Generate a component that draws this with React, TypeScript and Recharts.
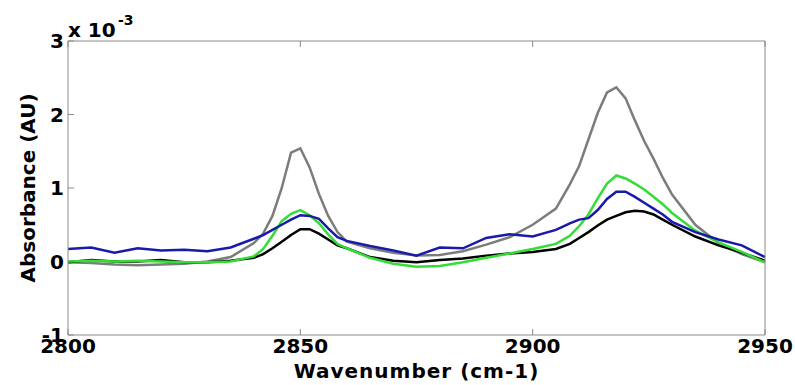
import React from "react";
import { LineChart, Line, XAxis, YAxis } from "recharts";

const WAVENUMBER = [
  2800, 2805, 2810, 2815, 2820, 2825, 2830, 2835, 2840,
  2842, 2844, 2846, 2848, 2850, 2852, 2854, 2856, 2858,
  2860, 2865, 2870, 2875, 2880, 2885, 2890, 2895, 2900, 2905,
  2908, 2910, 2912, 2914, 2916, 2918, 2920, 2922, 2924, 2926, 2928, 2930,
  2935, 2940, 2945, 2950,
];

// absorbance in units of 1e-3 AU
const GRAY = [
  -0.01, -0.02, -0.04, -0.05, -0.04, -0.03, 0.0, 0.06, 0.25,
  0.38, 0.62, 1.0, 1.48, 1.54, 1.28, 0.92, 0.62, 0.4,
  0.27, 0.18, 0.12, 0.08, 0.09, 0.14, 0.23, 0.33, 0.5, 0.72,
  1.05, 1.3, 1.66, 2.02, 2.3, 2.37, 2.22, 1.92, 1.64, 1.4, 1.14, 0.91,
  0.5, 0.25, 0.1, -0.01,
];

const GREEN = [
  0.0, 0.01, 0.0, 0.01, 0.0, -0.01, -0.01, 0.0, 0.07,
  0.17, 0.35, 0.55, 0.65, 0.7, 0.63, 0.52, 0.37, 0.24,
  0.18, 0.05, -0.03, -0.07, -0.06, -0.01, 0.05, 0.11, 0.17, 0.24,
  0.35, 0.48, 0.64, 0.86, 1.06, 1.17, 1.13, 1.06, 0.98, 0.88, 0.78, 0.66,
  0.42, 0.26, 0.13, -0.01,
];

const BLUE = [
  0.17, 0.19, 0.12, 0.18, 0.15, 0.16, 0.14, 0.19, 0.31,
  0.36, 0.43, 0.5, 0.57, 0.63, 0.62, 0.58, 0.45, 0.33,
  0.28, 0.21, 0.15, 0.08, 0.19, 0.18, 0.32, 0.37, 0.34, 0.43,
  0.52, 0.57, 0.59, 0.7, 0.85, 0.95, 0.95, 0.88, 0.8, 0.72, 0.64, 0.54,
  0.4, 0.3, 0.22, 0.06,
];

const BLACK = [
  -0.01, 0.02, 0.0, 0.0, 0.02, -0.01, -0.01, 0.01, 0.05,
  0.1, 0.18, 0.27, 0.36, 0.44, 0.44, 0.38, 0.3, 0.22,
  0.18, 0.06, 0.01, -0.01, 0.02, 0.04, 0.08, 0.11, 0.13, 0.17,
  0.24, 0.32, 0.4, 0.49, 0.57, 0.62, 0.67, 0.69, 0.68, 0.64, 0.57, 0.5,
  0.34, 0.22, 0.12, 0.01,
];

const X_TICKS = [2800, 2850, 2900, 2950];
const Y_TICKS = [-1, 0, 1, 2, 3];

const data = WAVENUMBER.map((w, i) => ({
  w,
  gray: GRAY[i],
  green: GREEN[i],
  blue: BLUE[i],
  black: BLACK[i],
}));

const font = "'DejaVu Sans', Arial, sans-serif";
const tickStyle = { fill: "#000", fontSize: 20, fontWeight: 700, fontFamily: font };
const axisColor = "#8a8a8a";

export default function App() {
  return (
    <div style={{ position: "absolute", left: 0, top: 0, width: 795, height: 385, background: "#fff" }}>
      <LineChart width={795} height={385} data={data} margin={{ top: 40, right: 29, bottom: 0, left: 0 }}>
        <XAxis
          dataKey="w"
          type="number"
          domain={[2800, 2950]}
          ticks={X_TICKS}
          height={50}
          tick={tickStyle}
          tickSize={-6}
          tickMargin={10}
          axisLine={{ stroke: axisColor }}
          tickLine={{ stroke: axisColor }}
          label={{ value: "Wavenumber (cm-1)", position: "insideBottom", offset: 7, fill: "#000", fontSize: 20, fontWeight: 700, fontFamily: font, letterSpacing: 1 }}
        />
        <XAxis
          xAxisId="top"
          orientation="top"
          dataKey="w"
          type="number"
          domain={[2800, 2950]}
          ticks={X_TICKS}
          height={1}
          tickFormatter={() => ""}
          tickSize={-6}
          axisLine={{ stroke: axisColor }}
          tickLine={{ stroke: axisColor }}
        />
        <YAxis
          domain={[-1, 3]}
          ticks={Y_TICKS}
          width={68}
          tick={tickStyle}
          tickSize={-6}
          tickMargin={10}
          axisLine={{ stroke: axisColor }}
          tickLine={{ stroke: axisColor }}
          label={{ value: "Absorbance (AU)", angle: -90, position: "center", dx: -6, fill: "#000", fontSize: 20, fontWeight: 700, fontFamily: font }}
        />
        <YAxis
          yAxisId="right"
          orientation="right"
          domain={[-1, 3]}
          ticks={Y_TICKS}
          width={1}
          tickFormatter={() => ""}
          tickSize={-6}
          axisLine={{ stroke: axisColor }}
          tickLine={{ stroke: axisColor }}
        />
        <Line dataKey="gray" stroke="#7c7c7c" strokeWidth={2.5} dot={false} isAnimationActive={false} />
        <Line dataKey="black" stroke="#000000" strokeWidth={2.5} dot={false} isAnimationActive={false} />
        <Line dataKey="green" stroke="#33dd33" strokeWidth={2.5} dot={false} isAnimationActive={false} />
        <Line dataKey="blue" stroke="#1a1aaa" strokeWidth={2.5} dot={false} isAnimationActive={false} />
      </LineChart>
      <div style={{ position: "absolute", left: 68, top: 20, fontFamily: font, fontWeight: 700, fontSize: 20, lineHeight: "20px", color: "#000", whiteSpace: "nowrap" }}>
        x 10
      </div>
      <div style={{ position: "absolute", left: 118, top: 13, fontFamily: font, fontWeight: 700, fontSize: 14, lineHeight: "14px", color: "#000", whiteSpace: "nowrap" }}>
        -3
      </div>
    </div>
  );
}
